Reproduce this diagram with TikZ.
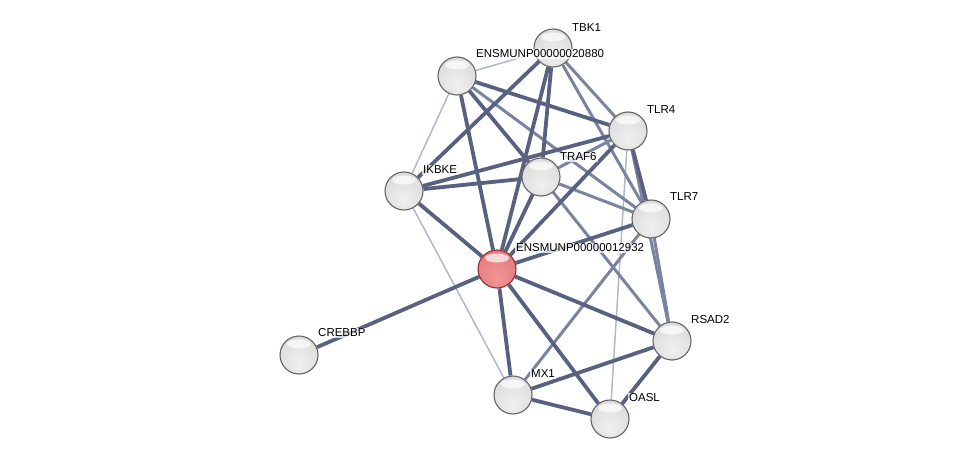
\documentclass[tikz,border=0pt]{standalone}
\usepackage{fontspec}
\setmainfont{Liberation Sans}
\usetikzlibrary{calc,backgrounds}
\definecolor{edgedark}{RGB}{ 88, 98,128}
\definecolor{edgemid}{RGB}{122,131,160}
\definecolor{edgelight}{RGB}{176,183,204}
\definecolor{rimgrey}{RGB}{100,100,100}
\definecolor{rimred}{RGB}{140, 50, 52}
\definecolor{gA}{RGB}{240,240,240}
\definecolor{gB}{RGB}{220,220,220}
\definecolor{gC}{RGB}{198,198,198}
\definecolor{gD}{RGB}{178,178,178}
\definecolor{gE}{RGB}{152,152,152}
\definecolor{rA}{RGB}{242,150,150}
\definecolor{rB}{RGB}{228,124,124}
\definecolor{rC}{RGB}{212,102,102}
\definecolor{rD}{RGB}{198, 88, 88}
\definecolor{rE}{RGB}{176, 70, 70}
\pgfdeclareradialshading{greyball}{\pgfpoint{0bp}{-12bp}}{%
  color(0bp)=(gA); color(30bp)=(gB); color(45bp)=(gC); color(55bp)=(gD); color(62bp)=(gE)}
\pgfdeclareradialshading{redball}{\pgfpoint{0bp}{-12bp}}{%
  color(0bp)=(rA); color(30bp)=(rB); color(45bp)=(rC); color(55bp)=(rD); color(62bp)=(rE)}

\begin{document}
\begin{tikzpicture}[
    x=1pt,y=-1pt,
    font=\fontsize{11.5}{13}\selectfont,
    prot/.style={circle,minimum size=38pt,inner sep=0pt,shading=greyball,
                 draw=rimgrey,line width=1.1pt,
                 path picture={\fill[white,opacity=0.7]
                   ($(path picture bounding box.north)+(0,8)$) ellipse (12 and 4.5);}},
    query/.style={prot,shading=redball,draw=rimred},
    lbl/.style={anchor=west,inner sep=1pt,fill=white,fill opacity=0.75,text opacity=1},
    strong/.style={draw=edgedark,line width=3.8pt},
    medium/.style={draw=edgemid,line width=3pt},
    weak/.style={draw=edgelight,line width=1.5pt},
]
\useasboundingbox (0,0) rectangle (976,465);

% --- proteins ---
\node[prot]  (e20880) at (457, 76) {};
\node[prot]  (tbk1)   at (553, 48) {};
\node[prot]  (tlr4)   at (628,131) {};
\node[prot]  (traf6)  at (541,177) {};
\node[prot]  (ikbke)  at (404,191) {};
\node[prot]  (tlr7)   at (651,219) {};
\node[query] (e12932) at (497,269) {};
\node[prot]  (crebbp) at (299,355) {};
\node[prot]  (rsad2)  at (672,341) {};
\node[prot]  (mx1)    at (513,395) {};
\node[prot]  (oasl)   at (610,419) {};

% --- interactions ---
\begin{scope}[on background layer]
\draw[weak]   (e20880) -- (tbk1);
\draw[weak]   (e20880) -- (ikbke);
\draw[weak]   (ikbke)  -- (mx1);
\draw[weak]   (tlr4)   -- (oasl);
\draw[medium] (e20880) -- (tlr7);
\draw[medium] (tbk1)   -- (tlr4);
\draw[medium] (tbk1)   -- (tlr7);
\draw[medium] (tlr4)   -- (traf6);
\draw[medium] (traf6)  -- (tlr7);
\draw[medium] (traf6)  -- (rsad2);
\draw[medium] (tlr7)   -- (mx1);
\draw[medium] (tlr7)   -- (rsad2);
\draw[medium] (tlr4.center) -- (rsad2.center);
\draw[strong] (e20880) -- (e12932);
\draw[strong] (e20880) -- (traf6);
\draw[strong] (e20880) -- (tlr4);
\draw[strong] (tbk1)   -- (ikbke);
\draw[strong] (tbk1)   -- (e12932);
\draw[strong] (tbk1)   -- (traf6);
\draw[strong] (tlr4)   -- (ikbke);
\draw[strong] (tlr4)   -- (e12932);
\draw[strong] (tlr4)   -- (tlr7);
\draw[strong] (ikbke)  -- (traf6);
\draw[strong] (ikbke)  -- (e12932);
\draw[strong] (traf6)  -- (e12932);
\draw[strong] (tlr7)   -- (e12932);
\draw[strong] (e12932) -- (crebbp);
\draw[strong] (e12932) -- (rsad2);
\draw[strong] (e12932) -- (mx1);
\draw[strong] (e12932) -- (oasl);
\draw[strong] (mx1)    -- (rsad2);
\draw[strong] (mx1)    -- (oasl);
\draw[strong] (rsad2)  -- (oasl);
\end{scope}

% --- names ---
\node[lbl] (e20880-l) at ($(e20880)+(18,-22)$) {ENSMUNP00000020880};
\node[lbl] (tbk1-l)   at ($(tbk1)+(18,-20)$)   {TBK1};
\node[lbl] (tlr4-l)   at ($(tlr4)+(18,-21)$)   {TLR4};
\node[lbl] (traf6-l)  at ($(traf6)+(18,-20)$)  {TRAF6};
\node[lbl] (ikbke-l)  at ($(ikbke)+(18,-21)$)  {IKBKE};
\node[lbl] (tlr7-l)   at ($(tlr7)+(18,-22)$)   {TLR7};
\node[lbl] (e12932-l) at ($(e12932)+(18,-21)$) {ENSMUNP00000012932};
\node[lbl] (crebbp-l) at ($(crebbp)+(18,-22)$) {CREBBP};
\node[lbl] (rsad2-l)  at ($(rsad2)+(18,-21)$)  {RSAD2};
\node[lbl] (mx1-l)    at ($(mx1)+(17,-21)$)    {MX1};
\node[lbl] (oasl-l)   at ($(oasl)+(18,-21)$)   {OASL};
\end{tikzpicture}
\end{document}
